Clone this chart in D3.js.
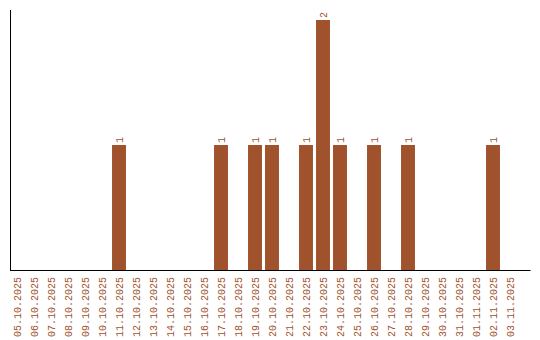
<!DOCTYPE html>
<html>
<head>
<meta charset="utf-8">
<script src="https://cdn.jsdelivr.net/npm/d3@7"></script>
<style>
  body { margin: 0; background: #fff; }
  svg { display: block; }
  text { font-family: "Liberation Mono", monospace; font-size: 10px; }
</style>
</head>
<body>
<svg id="chart" width="540" height="340"></svg>
<script>
const dates = [
  "05.10.2025", "06.10.2025", "07.10.2025", "08.10.2025", "09.10.2025",
  "10.10.2025", "11.10.2025", "12.10.2025", "13.10.2025", "14.10.2025",
  "15.10.2025", "16.10.2025", "17.10.2025", "18.10.2025", "19.10.2025",
  "20.10.2025", "21.10.2025", "22.10.2025", "23.10.2025", "24.10.2025",
  "25.10.2025", "26.10.2025", "27.10.2025", "28.10.2025", "29.10.2025",
  "30.10.2025", "31.10.2025", "01.11.2025", "02.11.2025", "03.11.2025"
];
const counts = [
  0, 0, 0, 0, 0,
  0, 1, 0, 0, 0,
  0, 0, 1, 0, 1,
  1, 0, 1, 2, 1,
  0, 1, 0, 1, 0,
  0, 0, 0, 1, 0
];

const color = "#a0522d";
const margin = { top: 10, right: 10, bottom: 70, left: 10 };
const width = 540, height = 340;

const $svg = d3.select("#chart");

const x = d3.scaleBand()
  .domain(dates)
  .range([8.5, 518.5])
  .paddingInner(0.18)
  .paddingOuter(0.09);

const y = d3.scaleLinear()
  .domain([0, 2])
  .range([height - margin.bottom, 20]);

const data = dates.map((d, i) => ({ date: d, value: counts[i] }));

// Bars
$svg.append("g")
  .selectAll("rect")
  .data(data.filter(d => d.value > 0))
  .join("rect")
    .attr("x", d => x(d.date))
    .attr("y", d => y(d.value))
    .attr("width", x.bandwidth())
    .attr("height", d => y(0) - y(d.value))
    .attr("fill", color);

// Value labels
$svg.append("g")
  .selectAll("text")
  .data(data.filter(d => d.value > 0))
  .join("text")
    .attr("transform", d => `translate(${x(d.date) + x.bandwidth() / 2 + 3.5},${y(d.value) - 2}) rotate(-90)`)
    .attr("text-anchor", "start")
    .attr("fill", color)
    .text(d => d.value);

// X axis labels
const xAxis = d3.axisBottom(x).tickSize(0).tickPadding(0);
$svg.append("g")
  .attr("transform", `translate(0,${height - margin.bottom})`)
  .call(xAxis)
  .call(g => g.select(".domain").remove())
  .call(g => g.selectAll("text")
    .attr("fill", color)
    .attr("font-family", "Liberation Mono, monospace")
    .attr("font-size", 10)
    .attr("dy", null)
    .attr("y", 0)
    .attr("transform", "translate(3.5,7) rotate(-90)")
    .attr("text-anchor", "end"));

// Axis lines
$svg.append("line")
  .attr("x1", margin.left + 0.5).attr("x2", margin.left + 0.5)
  .attr("y1", margin.top).attr("y2", height - margin.bottom + 0.5)
  .attr("stroke", "#000");

$svg.append("line")
  .attr("x1", margin.left).attr("x2", width - margin.right + 0.5)
  .attr("y1", height - margin.bottom + 0.5).attr("y2", height - margin.bottom + 0.5)
  .attr("stroke", "#000");
</script>
</body>
</html>
